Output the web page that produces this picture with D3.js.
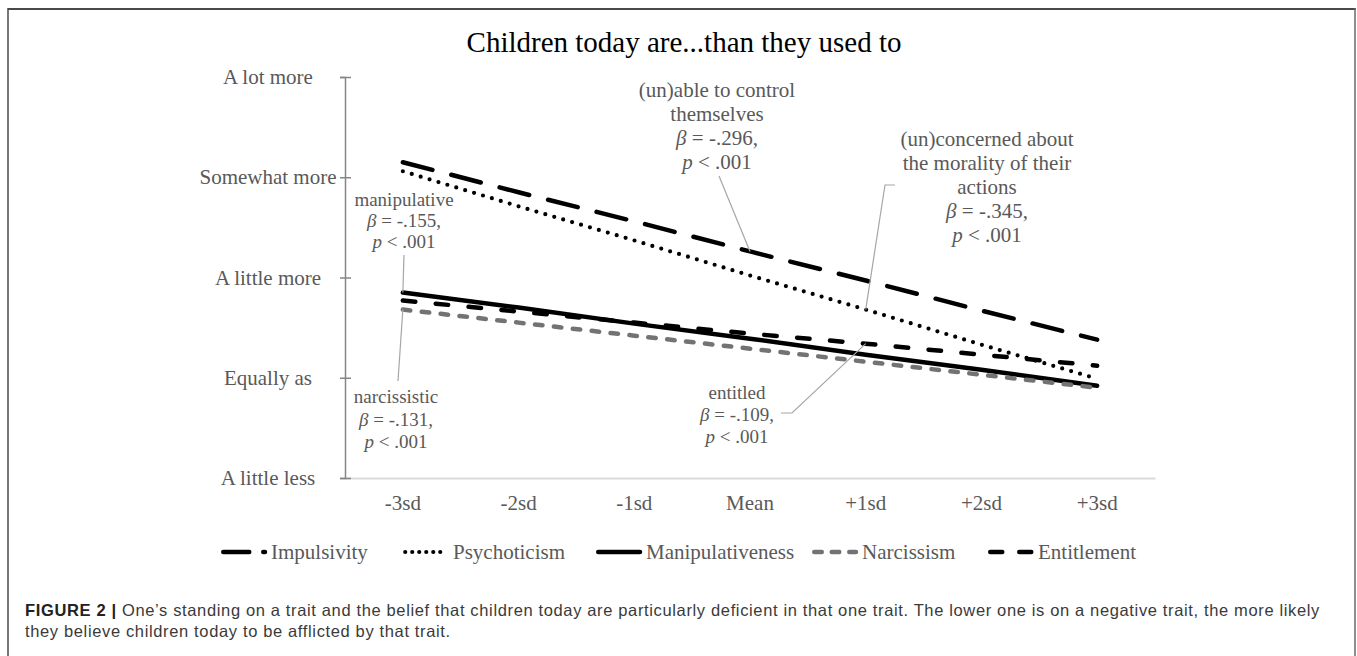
<!DOCTYPE html>
<html><head><meta charset="utf-8">
<script src="https://cdn.jsdelivr.net/npm/d3@7"></script>
<style>body{margin:0;background:#fff} svg{display:block}</style>
</head><body>
<svg id="c" width="1357" height="656"></svg>
<script>
// ---------- data ----------
const title = "Children today are...than they used to";
const categories = ["-3sd", "-2sd", "-1sd", "Mean", "+1sd", "+2sd", "+3sd"];
const yLevels = [1, 2, 3, 4, 5];
const yLevelLabels = ["A little less", "Equally as", "A little more", "Somewhat more", "A lot more"];
const seriesNames = ["Impulsivity", "Psychoticism", "Manipulativeness", "Narcissism", "Entitlement"];
const impulsivity      = [4.15, 3.85, 3.56, 3.26, 2.97, 2.67, 2.38];
const psychoticism     = [4.06, 3.71, 3.37, 3.02, 2.68, 2.33, 1.99];
const manipulativeness = [2.85, 2.70, 2.54, 2.39, 2.23, 2.08, 1.92];
const narcissism       = [2.68, 2.55, 2.42, 2.29, 2.16, 2.03, 1.90];
const entitlement      = [2.77, 2.66, 2.55, 2.44, 2.34, 2.23, 2.12];
const captionBold = "FIGURE 2 |";
const captionLines = [
  " One\u2019s standing on a trait and the belief that children today are particularly deficient in that one trait. The lower one is on a negative trait, the more likely",
  "they believe children today to be afflicted by that trait."
];

// ---------- styles ----------
const seriesValues = [impulsivity, psychoticism, manipulativeness, narcissism, entitlement];
const styles = [
  {color: "#000", width: 4.5, dash: "30.5 19.5", legendDash: "26 14"},
  {color: "#000", width: 4.2, dash: "0 9.3", legendDash: "0 7"},
  {color: "#000", width: 4.5, dash: null, legendDash: null},
  {color: "#737373", width: 4.5, dash: "7.5 11.5", legendDash: "7.5 10"},
  {color: "#000", width: 4.5, dash: "12.5 20.5", legendDash: "12 17"}
];

const svg = d3.select("#c");
const serif = "'Liberation Serif','Times New Roman',serif";

// frame
svg.append("line").attr("x1", 8).attr("x2", 1356).attr("y1", 9).attr("y2", 9).attr("stroke", "#4a4a4a").attr("stroke-width", 2);
svg.append("line").attr("x1", 8).attr("x2", 8).attr("y1", 8).attr("y2", 656).attr("stroke", "#4a4a4a").attr("stroke-width", 1.5);
svg.append("line").attr("x1", 1355).attr("x2", 1355).attr("y1", 8).attr("y2", 656).attr("stroke", "#6a6a6a").attr("stroke-width", 1.5);

// scales
const x = d3.scaleBand().domain(categories).range([345, 1155]);
const y = d3.scaleLinear().domain([1, 5]).range([478, 77]);
const cx = c => x(c) + x.bandwidth() / 2;

// title
svg.append("text").attr("x", 684).attr("y", 52).attr("text-anchor", "middle")
  .attr("font-family", serif).attr("font-size", 29).attr("fill", "#000").text(title);

// x axis
const gx = svg.append("g").attr("transform", "translate(0,478)")
  .call(d3.axisBottom(x).tickSize(0).tickSizeOuter(0));
gx.select(".domain").attr("stroke", "#d9d9d9").attr("stroke-width", 2);
gx.selectAll("text").attr("y", 32).attr("dy", 0).attr("font-family", serif)
  .attr("font-size", 21).attr("fill", "#595959");

// y axis
const gy = svg.append("g").attr("transform", "translate(345,0)")
  .call(d3.axisLeft(y).tickValues(yLevels).tickFormat((d, i) => yLevelLabels[i]).tickSizeOuter(0).tickSize(5));
gy.select(".domain").attr("stroke", "#868686").attr("stroke-width", 1.5);
gy.selectAll(".tick line").attr("x1", -5).attr("x2", 6).attr("stroke", "#868686").attr("stroke-width", 1.5);
gy.selectAll("text").attr("x", 268 - 345).attr("text-anchor", "middle").attr("dy", "0.32em")
  .attr("font-family", serif).attr("font-size", 21).attr("fill", "#595959");

// series lines
const line = d3.line().x((d, i) => cx(categories[i])).y(d => y(d));
seriesValues.forEach((vals, k) => {
  const s = styles[k];
  svg.append("path").datum(vals).attr("d", line).attr("fill", "none")
    .attr("stroke", s.color).attr("stroke-width", s.width).attr("stroke-linecap", "round")
    .attr("stroke-dasharray", s.dash);
});

// annotations
const annotations = [
  {x: 717, y0: 90, step: 24, fs: 21, lines: [[["(un)able to control"]], [["themselves"]], [["\u03b2", 1], [" = -.296,"]], [["p", 1], [" < .001"]]],
   leader: [[719, 176]], target: [0, "Mean"]},
  {x: 987, y0: 139, step: 24, fs: 21, lines: [[["(un)concerned about"]], [["the morality of their"]], [["actions"]], [["\u03b2", 1], [" = -.345,"]], [["p", 1], [" < .001"]]],
   leader: [[895, 185], [885, 185]], target: [1, "+1sd"]},
  {x: 404, y0: 200, step: 21, fs: 19, lines: [[["manipulative"]], [["\u03b2", 1], [" = -.155,"]], [["p", 1], [" < .001"]]],
   leader: [[404, 255]], target: [2, "-3sd"]},
  {x: 396, y0: 397, step: 22.5, fs: 19, lines: [[["narcissistic"]], [["\u03b2", 1], [" = -.131,"]], [["p", 1], [" < .001"]]],
   leader: [[398, 381]], target: [3, "-3sd"]},
  {x: 737, y0: 393, step: 22, fs: 19, lines: [[["entitled"]], [["\u03b2", 1], [" = -.109,"]], [["p", 1], [" < .001"]]],
   leader: [[781, 413], [792, 413]], target: [4, "+1sd"]}
];
annotations.forEach(a => {
  a.lines.forEach((segs, i) => {
    const t = svg.append("text").attr("x", a.x).attr("y", a.y0 + i * a.step).attr("dy", "0.32em")
      .attr("text-anchor", "middle").attr("font-family", serif).attr("font-size", a.fs).attr("fill", "#595959");
    segs.forEach(sg => t.append("tspan").attr("font-style", sg[1] ? "italic" : "normal").text(sg[0]));
  });
  const [si, cat] = a.target;
  const idx = categories.indexOf(cat);
  const end = [cx(cat), y(seriesValues[si][idx])];
  const pts = a.leader.concat([end]);
  svg.append("path").attr("d", d3.line()(pts)).attr("fill", "none").attr("stroke", "#a6a6a6").attr("stroke-width", 1.2);
});

// legend
const legendX = [221, 403, 596, 812, 988];
const legendY = 552;
seriesNames.forEach((name, k) => {
  const s = styles[k];
  const g = svg.append("g").attr("transform", `translate(${legendX[k]},${legendY})`);
  g.append("line").attr("x1", 2.25).attr("x2", 44).attr("y1", 0).attr("y2", 0)
    .attr("stroke", s.color).attr("stroke-width", s.width).attr("stroke-linecap", "round")
    .attr("stroke-dasharray", s.legendDash);
  g.append("text").attr("x", 50).attr("y", 0).attr("dy", "0.32em").attr("font-family", serif)
    .attr("font-size", 21).attr("fill", "#595959").text(name);
});

// caption
const sans = "'Liberation Sans',Arial,Helvetica,sans-serif";
const capSize = 16.5;
const c1 = svg.append("text").attr("x", 25).attr("y", 616).attr("font-family", sans).attr("font-size", capSize).attr("fill", "#3a3a3a");
c1.append("tspan").attr("font-weight", "bold").attr("fill", "#222").text(captionBold);
c1.append("tspan").text(captionLines[0]);
const c2 = svg.append("text").attr("x", 25).attr("y", 637).attr("font-family", sans).attr("font-size", capSize).attr("fill", "#3a3a3a").text(captionLines[1]);
const len1 = c1.node().getComputedTextLength();
const nChars = (captionBold + captionLines[0]).length;
const ls = Math.max(0, (1295 - len1) / nChars);
c1.attr("letter-spacing", ls);
c2.attr("letter-spacing", ls);
</script>
</body></html>
